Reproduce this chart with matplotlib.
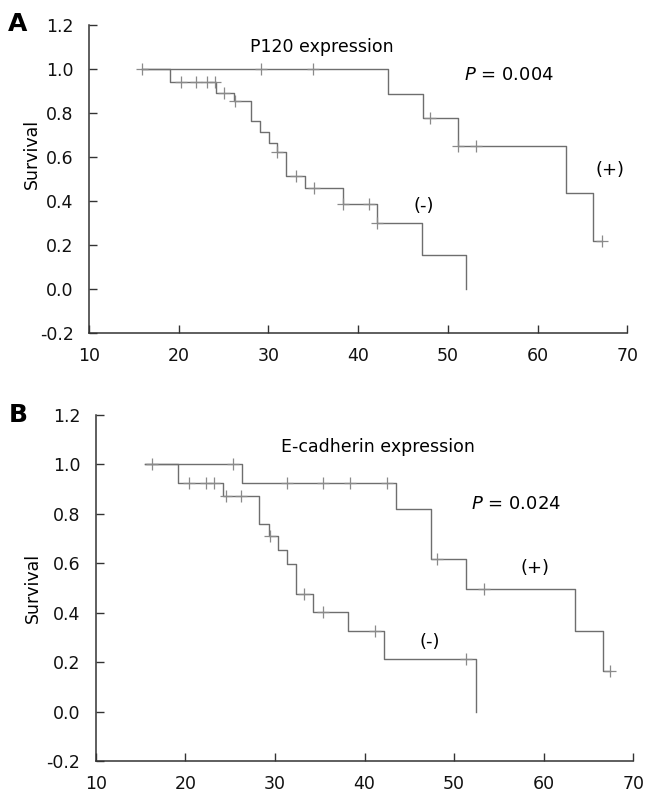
import numpy as np
import matplotlib
matplotlib.use("Agg")
import matplotlib.pyplot as plt
from matplotlib import font_manager

# ---------------- data ----------------
# Panel A: P120 expression
a_neg_times = [15.9, 19.0, 24.2, 26.2, 28.0, 29.1, 30.1, 31.0, 32.0, 34.1, 38.3, 42.1, 47.1, 52.0]
a_neg_surv = [1.0, 0.941, 0.889, 0.854, 0.763, 0.712, 0.662, 0.622, 0.511, 0.459, 0.383, 0.30, 0.152, 0.0]
a_neg_censor = [15.9, 20.3, 21.9, 23.1, 24.05, 25.05, 26.3, 31.0, 33.1, 35.1, 38.3, 41.2, 42.1]
a_neg_end = 52.0

a_pos_times = [15.9, 43.3, 47.2, 51.1, 63.2, 66.2]
a_pos_surv = [1.0, 0.884, 0.777, 0.649, 0.433, 0.217]
a_pos_censor = [29.2, 35.0, 48.0, 51.1, 53.1, 67.2]
a_pos_end = 67.2

# Panel B: E-cadherin expression
b_neg_times = [15.5, 19.2, 24.2, 28.2, 29.3, 30.3, 31.3, 32.4, 34.3, 38.2, 42.2, 52.4]
b_neg_surv = [1.0, 0.925, 0.872, 0.761, 0.711, 0.654, 0.598, 0.475, 0.404, 0.328, 0.214, 0.0]
b_neg_censor = [20.4, 22.3, 23.2, 24.5, 26.2, 29.5, 33.2, 35.4, 41.2, 51.3]
b_neg_end = 52.4

b_pos_times = [15.5, 26.3, 43.5, 47.4, 51.3, 63.5, 66.6]
b_pos_surv = [1.0, 0.925, 0.818, 0.618, 0.495, 0.326, 0.166]
b_pos_censor = [16.25, 25.3, 31.4, 35.4, 38.4, 42.5, 48.1, 53.3, 67.4]
b_pos_end = 67.4

x_ticks = [10, 20, 30, 40, 50, 60, 70]
y_ticks = [-0.2, 0.0, 0.2, 0.4, 0.6, 0.8, 1.0, 1.2]

titles = ["P120 expression", "E-cadherin expression"]
pvals = ["0.004", "0.024"]
panel_letters = ["A", "B"]

# ---------------- style ----------------
avail = {f.name for f in font_manager.fontManager.ttflist}
narrow = "Liberation Sans Narrow" if "Liberation Sans Narrow" in avail else "DejaVu Sans"
main_font = "DejaVu Sans"
plt.rcParams["font.family"] = [main_font]

LINE = "#6e6e6e"
CENS = "#8a8a8a"
AX = "#333333"

fig = plt.figure(figsize=(6.57, 8.01), dpi=100)

axA = fig.add_axes([0.1355, 0.5846, 0.8193, 0.3846])
axB = fig.add_axes([0.1457, 0.0496, 0.8183, 0.4323])


def step_curve(ax, times, surv, end, censor):
    xs = list(times) + [end]
    ys = list(surv) + [surv[-1]]
    ax.step(xs, ys, where="post", color=LINE, lw=1.0, zorder=3)
    t = np.asarray(times)
    s = np.asarray(surv)
    idx = np.searchsorted(t, np.asarray(censor), side="right") - 1
    idx = np.clip(idx, 0, len(s) - 1)
    ax.plot(censor, s[idx], ls="none", marker="+", ms=8, mew=0.9, color=CENS, zorder=4)


def style_axis(ax, ytick_font):
    ax.set_xlim(10, 70)
    ax.set_ylim(-0.2, 1.2)
    for sp in ["top", "right"]:
        ax.spines[sp].set_visible(False)
    for sp in ["left", "bottom"]:
        ax.spines[sp].set_color(AX)
        ax.spines[sp].set_linewidth(1.1)
    ax.set_xticks(x_ticks)
    ax.set_yticks(y_ticks)
    ax.set_yticklabels([f"{v:.1f}" for v in y_ticks], fontfamily=ytick_font)
    ax.tick_params(direction="in", length=6, width=1.0, color=AX, labelsize=12.5,
                   labelcolor="#111111")
    ax.tick_params(axis="x", pad=10)
    ax.tick_params(axis="y", pad=11)
    ax.set_ylabel("Survival", fontsize=12.5)


# Panel A
step_curve(axA, a_neg_times, a_neg_surv, a_neg_end, a_neg_censor)
step_curve(axA, a_pos_times, a_pos_surv, a_pos_end, a_pos_censor)
style_axis(axA, narrow)
axA.yaxis.set_label_coords(-0.09, 0.58)
axA.text(35.9, 1.098, titles[0], fontsize=12.5, ha="center", va="center")
axA.text(56.8, 0.971, r"$\it{P}$ = " + pvals[0], fontsize=13, ha="center", va="center")
axA.text(68.1, 0.539, "(+)", fontsize=13, ha="center", va="center")
axA.text(47.3, 0.376, "(-)", fontsize=13, ha="center", va="center")

# Panel B
step_curve(axB, b_neg_times, b_neg_surv, b_neg_end, b_neg_censor)
step_curve(axB, b_pos_times, b_pos_surv, b_pos_end, b_pos_censor)
style_axis(axB, main_font)
axB.yaxis.set_label_coords(-0.10, 0.50)
axB.text(41.5, 1.072, titles[1], fontsize=12.5, ha="center", va="center")
axB.text(56.85, 0.842, r"$\it{P}$ = " + pvals[1], fontsize=13, ha="center", va="center")
axB.text(59.06, 0.580, "(+)", fontsize=13, ha="center", va="center")
axB.text(47.3, 0.284, "(-)", fontsize=13, ha="center", va="center")

fig.text(18 / 657, 1 - 24 / 801, panel_letters[0], fontsize=18, fontweight="bold",
         ha="center", va="center")
fig.text(18 / 657, 1 - 415 / 801, panel_letters[1], fontsize=18, fontweight="bold",
         ha="center", va="center")

fig.savefig("out.png", dpi=100)
